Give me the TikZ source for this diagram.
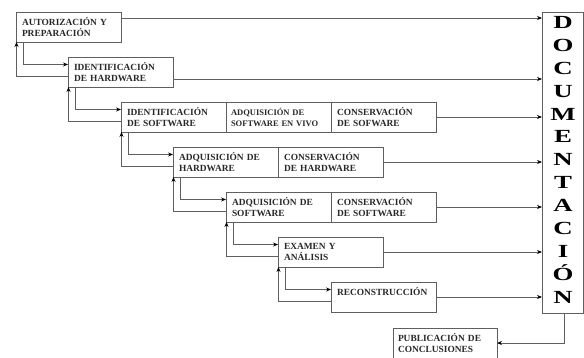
\documentclass[tikz,border=0pt]{standalone}
\usepackage{fontspec}
\setmainfont{Liberation Serif}
\usepackage{tikz}
\usetikzlibrary{positioning, arrows.meta}
\definecolor{linegray}{RGB}{95,95,95}
\definecolor{textgray}{RGB}{40,40,40}

\tikzset{
  cell/.style={draw=linegray, line width=0.8pt, minimum height=30pt, text width=93pt,
    inner xsep=6pt, inner ysep=2pt, align=left, outer sep=0pt, anchor=north west,
    font=\fontsize{9.4}{11.5}\selectfont\bfseries, text=textgray},
  docletter/.style={anchor=base, inner sep=0pt, text=black,
    font=\fontsize{18.5}{20}\selectfont\bfseries},
  arr/.style={draw=linegray, line width=0.8pt, -{Stealth[length=5pt,width=4pt,black]}},
}

\begin{document}
\begin{tikzpicture}[x=1pt, y=-1pt]
            \useasboundingbox (0,0) rectangle (584,358);
            % etapas
            \node[cell] (aut) at (16,12) {AUTORIZACIÓN Y\\PREPARACIÓN};
            \node[cell] (idhw) at (68,57) {IDENTIFICACIÓN\\DE HARDWARE};
            \node[cell] (idsw) at (121,102) {IDENTIFICACIÓN\\DE SOFTWARE};
            \node[cell, right=0pt of idsw, inner xsep=5pt, text width=95pt,
                font=\fontsize{8.5}{11}\selectfont\bfseries] (adqvivo) {ADQUISICIÓN DE\\SOFTWARE EN VIVO};
            \node[cell, right=0pt of adqvivo] (conssw1) {CONSERVACIÓN\\DE SOFWARE};
            \node[cell] (adqhw) at (173,147) {ADQUISICIÓN DE\\HARDWARE};
            \node[cell, right=0pt of adqhw] (conshw) {CONSERVACIÓN\\DE HARDWARE};
            \node[cell] (adqsw) at (226,192) {ADQUISICIÓN DE\\SOFTWARE};
            \node[cell, right=0pt of adqsw] (conssw) {CONSERVACIÓN\\DE SOFTWARE};
            \node[cell] (exam) at (278,237) {EXAMEN Y\\ANÁLISIS};
            \node[cell] (recon) at (331,282) {RECONSTRUCCIÓN\\\mbox{}};
            \node[cell, inner xsep=5pt, text width=94pt] (pub) at (393,328) {PUBLICACIÓN DE\\CONCLUSIONES};
            % documentacion
            \node[draw=linegray, line width=0.8pt, minimum width=41pt, minimum height=301pt,
                anchor=north west, outer sep=0pt] (doc) at (542,12) {};
            \foreach \l [count=\i from 0] in {D,O,C,U,M,E,N,T,A,C,I,Ó,N}
                \node[docletter] (let\i) at (563,28.5+22.9*\i) {\scalebox{1.45}[1]{\l}};
            % hacia la documentacion
            \coordinate (a1) at ([yshift=-6pt]aut.north east);
            \coordinate (a2) at ([yshift=-22pt]idhw.north east);
            \draw[arr] (a1) -- (a1 -| doc.west);
            \draw[arr] (a2) -- (a2 -| doc.west);
            \draw[arr] (conssw1.east) -- (conssw1.east -| doc.west);
            \draw[arr] (conshw.east) -- (conshw.east -| doc.west);
            \draw[arr] (conssw.east) -- (conssw.east -| doc.west);
            \draw[arr] (exam.east) -- (exam.east -| doc.west);
            \draw[arr] (recon.east) -- (recon.east -| doc.west);
            \draw[arr] ([xshift=1.5pt]doc.south) |- (pub.east);
            % ida y vuelta entre etapas
            \draw[arr] ([xshift=7pt]aut.south west) |- ([yshift=-7.5pt]idhw.north west);
            \draw[arr] ([yshift=-19pt]idhw.north west) -| ([xshift=0.5pt]aut.south west);
            \draw[arr] ([xshift=7pt]idhw.south west) |- ([yshift=-7.5pt]idsw.north west);
            \draw[arr] ([yshift=-19pt]idsw.north west) -| ([xshift=0.5pt]idhw.south west);
            \draw[arr] ([xshift=7pt]idsw.south west) |- ([yshift=-7.5pt]adqhw.north west);
            \draw[arr] ([yshift=-19pt]adqhw.north west) -| ([xshift=0.5pt]idsw.south west);
            \draw[arr] ([xshift=7pt]adqhw.south west) |- ([yshift=-7.5pt]adqsw.north west);
            \draw[arr] ([yshift=-19pt]adqsw.north west) -| ([xshift=0.5pt]adqhw.south west);
            \draw[arr] ([xshift=7pt]adqsw.south west) |- ([yshift=-7.5pt]exam.north west);
            \draw[arr] ([yshift=-19pt]exam.north west) -| ([xshift=0.5pt]adqsw.south west);
            \draw[arr] ([xshift=7pt]exam.south west) |- ([yshift=-7.5pt]recon.north west);
            \draw[arr] ([yshift=-19pt]recon.north west) -| ([xshift=0.5pt]exam.south west);
        \end{tikzpicture}
\end{document}
